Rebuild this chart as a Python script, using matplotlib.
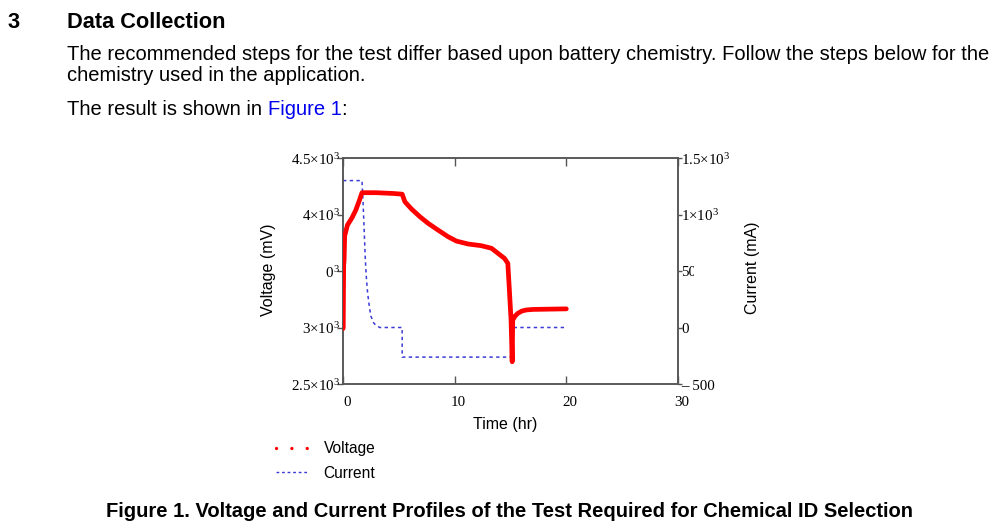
import matplotlib
matplotlib.use("Agg")
import matplotlib.pyplot as plt
from matplotlib.lines import Line2D
from matplotlib.transforms import Bbox, offset_copy, blended_transform_factory

# ---------------- data ----------------
volt_t = [0.0, 0.02, 0.04, 0.06, 0.1, 0.15, 0.4, 0.8, 1.15, 1.45, 1.7, 3.0, 4.5, 5.3,
          5.54, 6.13, 6.88, 7.62, 8.5, 9.4, 10.15, 11.2, 12.38, 13.3, 13.87, 14.46, 14.76,
          14.9, 15.05, 15.15, 15.2, 15.4, 15.65, 16.0, 16.4, 17.0, 17.6, 20.0]
volt_mv = [2990, 3000, 3300, 3550, 3600, 3810, 3907, 3970, 4040, 4120, 4193, 4193, 4186, 4180,
           4113, 4049, 3981, 3922, 3863, 3804, 3765, 3739, 3724, 3701, 3657, 3612, 3568,
           3332, 3066, 2697, 3066, 3100, 3125, 3145, 3155, 3160, 3161, 3165]

curr_t = [0.0, 1.7, 1.8, 1.9, 2.0, 2.1, 2.2, 2.35, 2.5, 2.75, 3.0, 3.3, 5.3, 5.3, 15.2, 15.2, 20.0]
curr_ma = [1300, 1300, 1100, 850, 600, 430, 310, 190, 100, 40, 15, 0, 0, -262, -262, 0, 0]

x_ticks = [0, 10, 20, 30]
x_labels = ["0", "10", "20", "30"]
v_ticks = [2500, 3000, 3500, 4000, 4500]
v_labels = [r"$\mathregular{2.5×10^3}$", r"$\mathregular{3×10^3}$", r"$\mathregular{3.5×10^3}$",
            r"$\mathregular{4×10^3}$", r"$\mathregular{4.5×10^3}$"]
i_ticks = [-500, 0, 500, 1000, 1500]
i_labels = ["\u2013 500", "0", "500", r"$\mathregular{1×10^3}$", r"$\mathregular{1.5×10^3}$"]

# ---------------- figure ----------------
W, H = 1000, 529
fig = plt.figure(figsize=(W / 100, H / 100), dpi=100)
sans = "Liberation Sans"
serif = "Liberation Serif"

def fy(px):
    return 1 - px / H

body_fs = 14.5
# document text
fig.text(8 / W, fy(28), "3", fontsize=15.7, fontweight="bold", family=sans, va="baseline")
fig.text(67 / W, fy(28), "Data Collection", fontsize=15.7, fontweight="bold", family=sans, va="baseline")
fig.text(67 / W, fy(60), "The recommended steps for the test differ based upon battery chemistry. "
         "Follow the steps below for the", fontsize=body_fs, family=sans, va="baseline")
fig.text(67 / W, fy(81), "chemistry used in the application.", fontsize=body_fs, family=sans, va="baseline")
t1 = fig.text(67 / W, fy(115), "The result is shown in ", fontsize=body_fs, family=sans, va="baseline")
fig.canvas.draw()
bb = t1.get_window_extent()
t2 = fig.text(bb.x1 / W, fy(115), "Figure 1", fontsize=body_fs, family=sans, va="baseline", color="#0000ee")
fig.canvas.draw()
bb2 = t2.get_window_extent()
fig.text(bb2.x1 / W, fy(115), ":", fontsize=body_fs, family=sans, va="baseline")

fig.text(510 / W, fy(517), "Figure 1. Voltage and Current Profiles of the Test Required for Chemical ID Selection",
         fontsize=14.5, fontweight="bold", family=sans, va="baseline", ha="center")

# axes
L, R, T, B = 343, 678, 158, 384
ax = fig.add_axes([L / W, 1 - B / H, (R - L) / W, (B - T) / H])
ax2 = ax.twinx()

ax.set_xlim(0, 30)
ax.set_ylim(2500, 4500)
ax2.set_ylim(-500, 1500)

spine_c = "#555555"
for a in (ax, ax2):
    for s in a.spines.values():
        s.set_color(spine_c)
        s.set_linewidth(1.1)

ax2.plot(curr_t, curr_ma, color="#3b3bd6", lw=1.1, ls=(0, (2.2, 2.2)), zorder=2)
ax.plot(volt_t, volt_mv, color="#ff0000", lw=3.4, solid_capstyle="round", solid_joinstyle="round", zorder=3)
ax.set_zorder(ax2.get_zorder() + 1)
ax.patch.set_visible(False)

# ticks
ax.set_xticks(x_ticks)
ax.set_xticklabels([])
ax.tick_params(axis="x", direction="in", length=6, width=1, color=spine_c, top=True, bottom=True)
ax.set_yticks(v_ticks)
ax.set_yticklabels([])
ax.tick_params(axis="y", direction="out", length=4, width=1, color=spine_c)
ax2.set_yticks(i_ticks)
ax2.set_yticklabels([])
ax2.tick_params(axis="y", direction="out", length=3, width=1, color=spine_c)

tick_fs = 10.8
bx = blended_transform_factory(ax.transData, ax.transAxes)
for v, lab in zip(x_ticks, x_labels):
    ax.text(v, 0, lab, transform=offset_copy(bx, fig=fig, x=4, y=-18, units="dots"),
            ha="center", va="center", fontsize=tick_fs, family=serif, clip_on=False)

by = blended_transform_factory(ax.transAxes, ax.transData)
for v, lab in zip(v_ticks, v_labels):
    tx = ax.text(0, v, lab, transform=offset_copy(by, fig=fig, x=-3, y=-2, units="dots"),
                 ha="right", va="center", fontsize=tick_fs, family=serif, clip_on=False)
    if v == 3500:
        tx.set_clip_box(Bbox.from_extents(326, 0, W, H))
        tx.set_clip_on(True)

by2 = blended_transform_factory(ax2.transAxes, ax2.transData)
for v, lab in zip(i_ticks, i_labels):
    dy = -3 if v == -500 else -2
    tx = ax2.text(1, v, lab, transform=offset_copy(by2, fig=fig, x=3, y=dy, units="dots"),
                  ha="left", va="center", fontsize=tick_fs, family=serif, clip_on=False)
    if v == 500:
        tx.set_clip_box(Bbox.from_extents(0, 0, 694, H))
        tx.set_clip_on(True)

# axis labels
fig.text(268 / W, fy(270), "Voltage (mV)", rotation=90, ha="center", va="center", fontsize=11.5, family=sans)
fig.text(752 / W, fy(268), "Current (mA)", rotation=90, ha="center", va="center", fontsize=11.5, family=sans)
fig.text(505 / W, fy(424), "Time (hr)", ha="center", va="center", fontsize=11.5, family=sans)

# legend
h_v = Line2D([], [], color="#ff0000", lw=2.4, ls=(0, (0.01, 4.6)), dash_capstyle="round")
h_i = Line2D([], [], color="#3b3bd6", lw=1.0, ls=(0, (2.0, 2.0)))
fig.legend([h_v, h_i], ["Voltage", "Current"], loc="center left", bbox_to_anchor=(276 / W, fy(461)),
           frameon=False, prop={"family": sans, "size": 11.2}, handlelength=2.0, handletextpad=1.05,
           labelspacing=0.62, borderpad=0, borderaxespad=0)

fig.savefig("out.png", dpi=100)
